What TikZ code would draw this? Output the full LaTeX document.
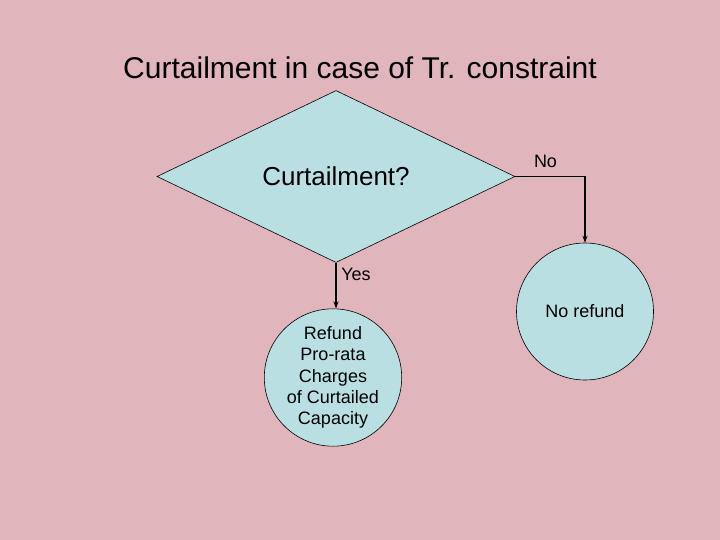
\documentclass[tikz,border=0pt]{standalone}
\usepackage{fontspec}
\setmainfont{Liberation Sans}
\usetikzlibrary{shapes.geometric,arrows.meta}
\definecolor{slidepink}{RGB}{224,181,187}
\definecolor{boxcyan}{RGB}{186,223,227}
\begin{document}
\begin{tikzpicture}
[x=1pt, y=-1pt, line width=1.1pt,
decision/.style={diamond, draw, fill=boxcyan, line width=0.6pt, inner sep=0pt, minimum width=358pt, minimum height=172pt, font=\fontsize{26}{30}\selectfont},
outcome/.style={circle, draw, fill=boxcyan, line width=0.6pt, inner sep=0pt, minimum size=137pt, align=center, font=\fontsize{18}{21.3}\selectfont},
branch/.style={font=\fontsize{18}{20}\selectfont},
flow/.style={-{Stealth[length=7pt,width=5pt]}}]

\fill[slidepink] (0,0) rectangle (720,540);
\useasboundingbox (0,0) rectangle (720,540);

\node[font=\fontsize{30}{34}\selectfont] (title) at (360,68) {Curtailment in case of Tr. constraint};

\node[decision] (curtail) at (336,176.5) {Curtailment?};
\node[outcome] (norefund) at (585,311.5) {No refund};
\node[outcome] (refund) at (333,377.5) {Refund\\Pro-rata\\Charges\\of Curtailed\\Capacity};

\draw[flow] (curtail.east) -| (norefund.north);
\draw[flow] (curtail.south) -- (curtail.south |- refund.north);

\node[branch] (no) at (545.5,161) {No};
\node[branch] (yes) at (356,274) {Yes};
\end{tikzpicture}
\end{document}
